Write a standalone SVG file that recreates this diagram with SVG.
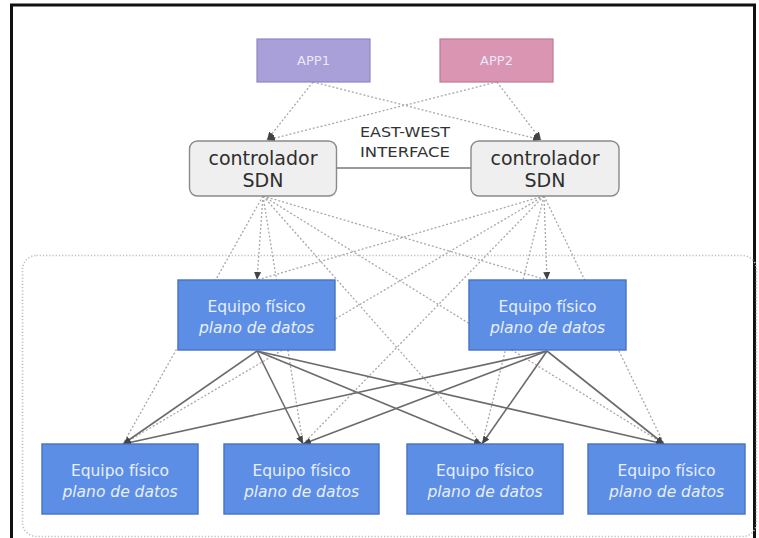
<svg xmlns="http://www.w3.org/2000/svg" width="759" height="538" viewBox="0 0 759 538">
<style>
.frame{fill:none;stroke:#111;stroke-width:3}
.region{fill:none;stroke:#bdbdbd;stroke-width:1.6;stroke-dasharray:1.2 2}
.dot{fill:none;stroke:#a8a8a8;stroke-width:1.3;stroke-dasharray:2 2}
.solid{fill:none;stroke:#6e6a6a;stroke-width:1.6}
.app1{fill:#a99fd9;stroke:#8f86c2;stroke-width:1.2}
.app2{fill:#d995b2;stroke:#be7b97;stroke-width:1.2}
.ctrl{fill:#efefef;stroke:#8a8a8a;stroke-width:1.4}
.eq{fill:#5c8ee6;stroke:#4672c4;stroke-width:1.4}
.apptxt{font-family:"DejaVu Sans",sans-serif;font-size:13px;fill:#ece8f8;text-anchor:middle}
.ctxt{font-family:"DejaVu Sans",sans-serif;font-size:19px;fill:#2e2e2e;text-anchor:middle}
.ew{font-family:"DejaVu Sans",sans-serif;font-size:14px;fill:#333;text-anchor:middle}
.eqt{font-family:"DejaVu Sans",sans-serif;font-size:15.5px;fill:#e8eefb;text-anchor:middle}
.eqi{font-style:italic}
</style>
<defs>
<marker id="ah" markerUnits="userSpaceOnUse" markerWidth="8" markerHeight="7" refX="8" refY="3.5" orient="auto">
<path d="M0,0 L8,3.5 L0,7 z" fill="#444"/>
</marker>
</defs>
<rect class="frame" x="11.5" y="5" width="743" height="545"/>
<rect class="region" x="22.5" y="255.5" width="734" height="281" rx="14"/>
<g id="connectors">
<line class="dot" x1="313" y1="82" x2="267" y2="140" marker-end="url(#ah)"/>
<line class="dot" x1="313" y1="82" x2="541" y2="140" marker-end="url(#ah)"/>
<line class="dot" x1="497" y1="82" x2="267" y2="140" marker-end="url(#ah)"/>
<line class="dot" x1="497" y1="82" x2="541" y2="140" marker-end="url(#ah)"/>
<line x1="337" y1="168" x2="471" y2="168" stroke="#777" stroke-width="1.3"/>
<line class="dot" x1="263" y1="196" x2="257" y2="280" marker-end="url(#ah)"/>
<line class="dot" x1="263" y1="196" x2="547" y2="280"/>
<line class="dot" x1="263" y1="196" x2="123" y2="444"/>
<line class="dot" x1="263" y1="196" x2="303" y2="444"/>
<line class="dot" x1="263" y1="196" x2="482" y2="444"/>
<line class="dot" x1="263" y1="196" x2="664" y2="444"/>
<line class="dot" x1="544" y1="196" x2="547" y2="280" marker-end="url(#ah)"/>
<line class="dot" x1="544" y1="196" x2="257" y2="280"/>
<line class="dot" x1="544" y1="196" x2="123" y2="444"/>
<line class="dot" x1="544" y1="196" x2="303" y2="444"/>
<line class="dot" x1="544" y1="196" x2="482" y2="444"/>
<line class="dot" x1="544" y1="196" x2="664" y2="444"/>
<line class="solid" x1="257" y1="351" x2="123" y2="444" marker-end="url(#ah)"/>
<line class="solid" x1="257" y1="351" x2="303" y2="444" marker-end="url(#ah)"/>
<line class="solid" x1="257" y1="351" x2="482" y2="444" marker-end="url(#ah)"/>
<line class="solid" x1="257" y1="351" x2="664" y2="444" marker-end="url(#ah)"/>
<line class="solid" x1="547" y1="351" x2="123" y2="444" marker-end="url(#ah)"/>
<line class="solid" x1="547" y1="351" x2="303" y2="444" marker-end="url(#ah)"/>
<line class="solid" x1="547" y1="351" x2="482" y2="444" marker-end="url(#ah)"/>
<line class="solid" x1="547" y1="351" x2="664" y2="444" marker-end="url(#ah)"/>
</g>
<g id="app1"><rect class="app1" x="257" y="39" width="113" height="43"/><text class="apptxt" x="313.5" y="65">APP1</text></g>
<g id="app2"><rect class="app2" x="440" y="39" width="113" height="43"/><text class="apptxt" x="496.5" y="65">APP2</text></g>
<g id="ew-label"><text class="ew" x="405" y="137" textLength="90" lengthAdjust="spacingAndGlyphs">EAST-WEST</text><text class="ew" x="405" y="157" textLength="90" lengthAdjust="spacingAndGlyphs">INTERFACE</text></g>
<g id="ctrl1"><rect class="ctrl" x="189.5" y="141" width="147" height="55" rx="8"/><text class="ctxt" x="263" y="165">controlador</text><text class="ctxt" x="263" y="187">SDN</text></g>
<g id="ctrl2"><rect class="ctrl" x="471" y="141" width="148" height="55" rx="8"/><text class="ctxt" x="545" y="165">controlador</text><text class="ctxt" x="545" y="187">SDN</text></g>
<g id="eq-mid1"><rect class="eq" x="178" y="280" width="157" height="70"/><text class="eqt" x="256.5" y="312">Equipo físico</text><text class="eqt eqi" x="256.5" y="333">plano de datos</text></g>
<g id="eq-mid2"><rect class="eq" x="469" y="280" width="157" height="70"/><text class="eqt" x="547.5" y="312">Equipo físico</text><text class="eqt eqi" x="547.5" y="333">plano de datos</text></g>
<g id="eq-b1"><rect class="eq" x="42" y="444" width="156" height="70"/><text class="eqt" x="120" y="476">Equipo físico</text><text class="eqt eqi" x="120" y="497">plano de datos</text></g>
<g id="eq-b2"><rect class="eq" x="224" y="444" width="155" height="70"/><text class="eqt" x="301.5" y="476">Equipo físico</text><text class="eqt eqi" x="301.5" y="497">plano de datos</text></g>
<g id="eq-b3"><rect class="eq" x="407" y="444" width="156" height="70"/><text class="eqt" x="485" y="476">Equipo físico</text><text class="eqt eqi" x="485" y="497">plano de datos</text></g>
<g id="eq-b4"><rect class="eq" x="588" y="444" width="157" height="70"/><text class="eqt" x="666.5" y="476">Equipo físico</text><text class="eqt eqi" x="666.5" y="497">plano de datos</text></g>
</svg>
